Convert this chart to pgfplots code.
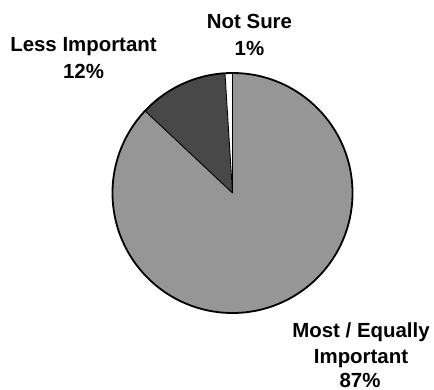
\documentclass[border=0pt]{standalone}
\usepackage{pgfplots}
\usepackage{pgfplotstable}
\pgfplotsset{compat=1.18}
\usepackage{fontspec}
\setmainfont{Liberation Sans}
\definecolor{mostgray}{RGB}{150,150,150}
\definecolor{lessgray}{RGB}{72,72,72}
\definecolor{suregray}{RGB}{255,255,255}

\pgfplotstableread{
label share
Most 87
Less 12
NotSure 1
}\piedata

\begin{document}
\begin{tikzpicture}
\pgfplotstablegetelem{0}{share}\of\piedata \pgfmathsetmacro\sA{\pgfplotsretval}
\pgfplotstablegetelem{1}{share}\of\piedata \pgfmathsetmacro\sB{\pgfplotsretval}
\pgfplotstablegetelem{2}{share}\of\piedata \pgfmathsetmacro\sC{\pgfplotsretval}
\pgfmathsetmacro\aA{90-3.6*\sA}
\pgfmathsetmacro\aB{\aA-3.6*\sB}
\pgfmathsetmacro\aC{\aB-3.6*\sC}
\begin{axis}[width=434bp,height=390bp,scale only axis,
  xmin=0,xmax=434,ymin=0,ymax=390,hide axis,clip=false]
\coordinate (sw) at (axis cs:0,0);
\coordinate (ne) at (axis cs:434,390);
\coordinate (c) at (axis cs:232.5,197);
\fill[mostgray] (c) -- ++(90:120bp) arc[start angle=90,end angle=\aA,radius=120bp] -- cycle;
\fill[lessgray] (c) -- ++(\aA:120bp) arc[start angle=\aA,end angle=\aB,radius=120bp] -- cycle;
\fill[suregray] (c) -- ++(\aB:120bp) arc[start angle=\aB,end angle=\aC,radius=120bp] -- cycle;
\draw[line width=0.9bp] (c) -- ++(\aA:120bp) (c) -- ++(\aB:120bp) (c) -- ++(\aC:120bp);
\draw[line width=1.8bp] (c) circle[radius=120bp];
\begin{scope}[every node/.style={anchor=base,inner sep=0pt,font=\fontsize{20.5}{26}\selectfont\bfseries}]
\node at (axis cs:249.5,362) {Not Sure};
\node at (axis cs:249.5,335) {1\%};
\node at (axis cs:83.5,339) {Less Important};
\node at (axis cs:83.5,312) {12\%};
\node at (axis cs:361,53) {Most / Equally};
\node at (axis cs:361,27) {Important};
\node at (axis cs:360,3) {87\%};
\end{scope}
\end{axis}
\pgfresetboundingbox
\path (sw) rectangle (ne);
\end{tikzpicture}
\end{document}
